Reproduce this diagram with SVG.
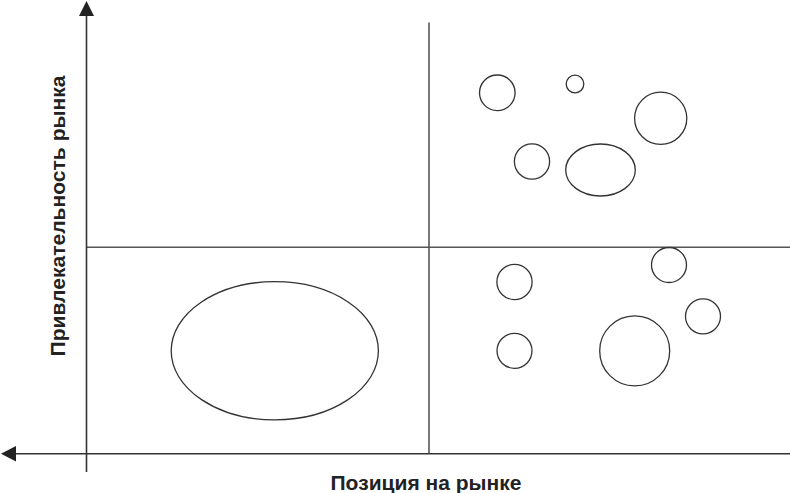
<svg xmlns="http://www.w3.org/2000/svg" width="790" height="493" viewBox="0 0 790 493">
<defs>
<style>
.ax{stroke:#333;stroke-width:1.6;fill:none}
.mid{stroke:#555;stroke-width:1.6;fill:none}
.b{stroke:#333;stroke-width:1.3;fill:none}
.lbl{font-family:"Liberation Sans",Arial,sans-serif;font-weight:bold;font-size:20.5px;fill:#222}
</style>
</defs>
<rect width="790" height="493" fill="#fff"/>
<g id="connectors">
<line class="mid" x1="429" y1="22.5" x2="429" y2="454"/>
<line class="mid" x1="86.5" y1="247.3" x2="790" y2="247.3"/>
<line class="ax" x1="86.5" y1="14" x2="86.5" y2="472"/>
<line class="ax" x1="14" y1="453.7" x2="790" y2="453.7"/>
<polygon points="86.5,1 79,16 94,16" fill="#222"/>
<polygon points="1,453.7 16,446 16,461.5" fill="#222"/>
</g>
<g id="labels">
<text class="lbl" x="426" y="490" text-anchor="middle" textLength="191" lengthAdjust="spacingAndGlyphs">Позиция на рынке</text>
<text class="lbl" transform="translate(64.5,216) rotate(-90)" text-anchor="middle" textLength="281" lengthAdjust="spacingAndGlyphs">Привлекательность рынка</text>
</g>
<g id="q-top-right">
<circle class="b" cx="497.3" cy="92.8" r="17.8"/>
<circle class="b" cx="575" cy="84" r="8.8"/>
<circle class="b" cx="660.7" cy="118.3" r="26.1"/>
<circle class="b" cx="532" cy="161.5" r="17.6"/>
<ellipse class="b" cx="600.5" cy="170" rx="34.8" ry="26"/>
</g>
<g id="q-bottom-right">
<circle class="b" cx="514.5" cy="282" r="17.6"/>
<circle class="b" cx="669" cy="265" r="17.5"/>
<circle class="b" cx="703" cy="316.3" r="17.5"/>
<circle class="b" cx="514.5" cy="350.8" r="17.5"/>
<circle class="b" cx="634.7" cy="350.9" r="35"/>
</g>
<g id="q-bottom-left">
<ellipse class="b" cx="274.8" cy="350.8" rx="103.6" ry="69.1"/>
</g>
</svg>
